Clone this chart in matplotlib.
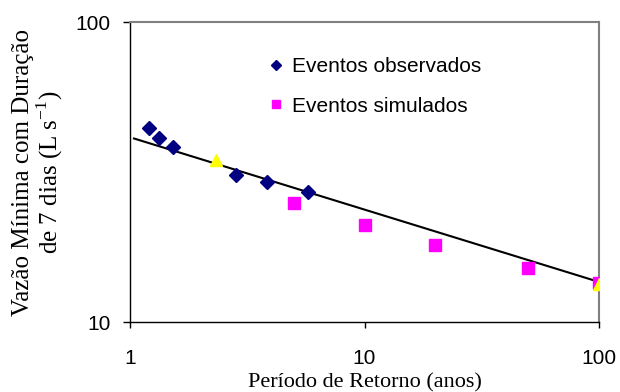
import matplotlib
matplotlib.use("Agg")
import matplotlib.pyplot as plt
import numpy as np

# Data
obs_T = [1.21, 1.33, 1.52, 2.82, 3.85, 5.76]
obs_Q = [44.2, 41.1, 38.2, 31.0, 29.2, 27.1]
sim_T = [5, 10, 20, 50, 100]
sim_Q = [24.9, 21.0, 18.1, 15.1, 13.5]
tri_T = [2.33, 100]
tri_Q = [34.6, 13.4]
fit_T = [1.04, 100]
fit_Q = [40.9, 13.6]
xticks = [1, 10, 100]
yticks = [10, 100]

sans = "Liberation Sans"
serif = "Liberation Serif"

fig = plt.figure(figsize=(6.2, 3.92), dpi=100)
ax = fig.add_axes([130/620, (392-322)/392, (599-130)/620, 300/392])
ax.set_xscale("log")
ax.set_yscale("log")
ax.set_xlim(1, 100)
ax.set_ylim(10, 100)

ax.plot(fit_T, fit_Q, color="black", lw=1.5, zorder=2)
ax.plot(obs_T, obs_Q, linestyle="none", marker="D", ms=7, color="#000080",
        label="Eventos observados", zorder=3)
ax.plot(sim_T, sim_Q, linestyle="none", marker="s", ms=8, color="#FF00FF",
        label="Eventos simulados", zorder=3)
ax.plot(tri_T, tri_Q, linestyle="none", marker="^", ms=8.5, color="#FFFF00",
        zorder=4)

ax.set_xticks(xticks)
ax.set_xticklabels([str(t) for t in xticks])
ax.set_yticks(yticks)
ax.set_yticklabels([str(t) for t in yticks])
ax.minorticks_off()
ax.tick_params(axis="both", direction="out", width=1, labelsize=15, color="black")
ax.tick_params(axis="x", length=4.5, pad=15)
ax.tick_params(axis="y", length=5, pad=9)
for lab in ax.get_xticklabels() + ax.get_yticklabels():
    lab.set_fontfamily(sans)

for s in ["top", "right"]:
    ax.spines[s].set_color("#808080")
    ax.spines[s].set_linewidth(1.5)
for s in ["left", "bottom"]:
    ax.spines[s].set_color("black")
    ax.spines[s].set_linewidth(1)

ax.set_xlabel("Período de Retorno (anos)", fontfamily=serif, fontsize=16)
ax.xaxis.set_label_coords(0.5, -0.17)
ax.set_ylabel("Vazão Mínima com Duração\nde 7 dias (L s$^{\\mathregular{-1}}$)",
              fontfamily=serif, fontsize=18, linespacing=1.05)
ax.yaxis.set_label_coords(-0.138, 0.5)

leg = ax.legend(loc="center left", bbox_to_anchor=(0.298, 0.785), frameon=False,
                prop={"family": sans, "size": 15}, handlelength=0.6,
                handletextpad=0.45, labelspacing=0.98, markerscale=0.8,
                borderpad=0, borderaxespad=0)

fig.savefig("out.png", dpi=100)
